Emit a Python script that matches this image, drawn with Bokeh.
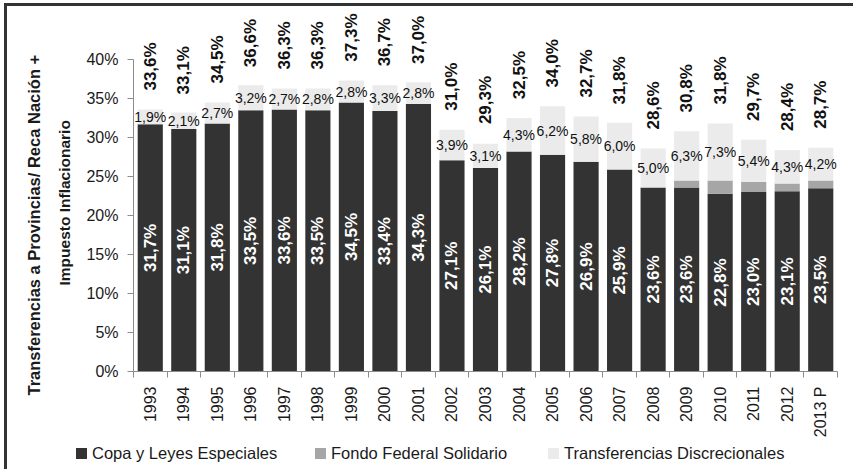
import math
from bokeh.plotting import figure
from bokeh.layouts import column
from bokeh.models import (ColumnDataSource, FixedTicker, PrintfTickFormatter,
                          Range1d, Title, Div)
from bokeh.core.properties import value
from bokeh.embed import file_html
from bokeh.resources import INLINE

years = ["1993", "1994", "1995", "1996", "1997", "1998", "1999", "2000", "2001",
         "2002", "2003", "2004", "2005", "2006", "2007", "2008", "2009", "2010",
         "2011", "2012", "2013 P"]
copa = [31.7, 31.1, 31.8, 33.5, 33.6, 33.5, 34.5, 33.4, 34.3, 27.1, 26.1, 28.2,
        27.8, 26.9, 25.9, 23.6, 23.6, 22.8, 23.0, 23.1, 23.5]
fondo = [0, 0, 0, 0, 0, 0, 0, 0, 0, 0, 0, 0, 0, 0, 0, 0,
         0.9, 1.7, 1.3, 1.0, 1.0]
disc = [1.9, 2.1, 2.7, 3.2, 2.7, 2.8, 2.8, 3.3, 2.8, 3.9, 3.1, 4.3, 6.2, 5.8,
        6.0, 5.0, 6.3, 7.3, 5.4, 4.3, 4.2]
total = [33.6, 33.1, 34.5, 36.6, 36.3, 36.3, 37.3, 36.7, 37.0, 31.0, 29.3, 32.5,
         34.0, 32.7, 31.8, 28.6, 30.8, 31.8, 29.7, 28.4, 28.7]
y_ticks = [0, 5, 10, 15, 20, 25, 30, 35, 40]
series_names = ["Copa y Leyes Especiales", "Fondo Federal Solidario",
                "Transferencias Discrecionales"]
y_title_1 = "Transferencias a Provincias/  Reca Nación +"
y_title_2 = "Impuesto Inflacionario"


def fmt(v):
    return f"{v:.1f}".replace(".", ",") + "%"


n = len(years)
xs = list(range(n))
src = ColumnDataSource(dict(
    x=xs,
    copa=copa,
    copa_mid=[c / 2 for c in copa],
    fondo_top=[c + f for c, f in zip(copa, fondo)],
    disc_top=[c + f + d for c, f, d in zip(copa, fondo, disc)],
    disc_mid=[c + f + d / 2 for c, f, d in zip(copa, fondo, disc)],
    total=total,
    copa_lbl=[fmt(v) for v in copa],
    disc_lbl=[fmt(v) for v in disc],
    total_lbl=[fmt(v) for v in total],
))

FONT = "Liberation Sans"
C_COPA, C_FONDO, C_DISC = "#333333", "#a6a6a6", "#ebebeb"
AXIS_C = "#8c8c8c"
TXT = "#1a1a1a"

p = figure(width=846, height=435, x_range=Range1d(-0.5, n - 0.5),
           y_range=Range1d(0, 46.03), output_backend="svg",
           toolbar_location=None, min_border_left=126, min_border_right=16,
           min_border_top=6, min_border_bottom=70)
p.outline_line_color = None
p.xgrid.visible = False
p.ygrid.visible = False
p.background_fill_color = "white"

W = 0.75
p.vbar(x="x", bottom=0, top="copa", width=W, fill_color=C_COPA,
       line_color=None, source=src)
p.vbar(x="x", bottom="copa", top="fondo_top", width=W,
       fill_color=C_FONDO, line_color=None, source=src)
p.vbar(x="x", bottom="fondo_top", top="disc_top", width=W,
       fill_color=C_DISC, line_color=None, source=src)

p.text(x="x", y="copa_mid", text="copa_lbl", angle=math.pi / 2,
       text_align="center", text_baseline="middle", text_color="white",
       text_font=value(FONT), text_font_style="bold", text_font_size="17px",
       source=src)
p.text(x="x", y="disc_mid", text="disc_lbl", text_align="center",
       text_baseline="middle", text_color="#111111", text_font=value(FONT),
       text_font_size="14px", source=src)
p.text(x="x", y="total", text="total_lbl", angle=math.pi / 2, y_offset=-43,
       text_align="center", text_baseline="middle", text_color="#111111",
       text_font=value(FONT), text_font_style="bold", text_font_size="17px",
       source=src)

# y axis
ya = p.yaxis[0]
ya.ticker = FixedTicker(ticks=y_ticks)
ya.formatter = PrintfTickFormatter(format="%d%%")
ya.bounds = (0, 40)
ya.axis_line_color = AXIS_C
ya.major_tick_line_color = AXIS_C
ya.major_tick_out = 6
ya.major_tick_in = 0
ya.minor_tick_line_color = None
ya.major_label_text_font = FONT
ya.major_label_text_font_size = "16px"
ya.major_label_text_color = TXT
ya.major_label_standoff = 9

# y axis title: two lines as separate titles in the left panel
t2 = Title(text=y_title_2, align="left", offset=86, standoff=17,
           vertical_align="top",
           text_font=FONT, text_font_style="bold", text_font_size="15.5px",
           text_color=TXT)
t1 = Title(text=y_title_1, align="left", offset=-24, standoff=6,
           vertical_align="top",
           text_font=FONT, text_font_style="bold", text_font_size="16.5px",
           text_color=TXT)
p.add_layout(t2, "left")
p.add_layout(t1, "left")

# x axis
xa = p.xaxis[0]
xa.ticker = FixedTicker(ticks=xs, minor_ticks=[i - 0.5 for i in range(n + 1)])
xa.major_label_overrides = {i: y for i, y in zip(xs, years)}
xa.major_label_orientation = math.pi / 2
xa.axis_line_color = AXIS_C
xa.major_tick_line_color = None
xa.major_tick_out = 6
xa.major_tick_in = 0
xa.minor_tick_line_color = AXIS_C
xa.minor_tick_out = 6
xa.minor_tick_in = 0
xa.major_label_text_font = FONT
xa.major_label_text_font_size = "16px"
xa.major_label_text_color = TXT
xa.major_label_standoff = 9

# legend strip below the chart (HTML legend)
legend_x = [69, 308, 541]
items = []
for name, col, lx in zip(series_names, (C_COPA, C_FONDO, C_DISC), legend_x):
    items.append(
        f'<span style="position:absolute;left:{lx}px;top:7px;width:11px;'
        f'height:11px;background:{col};"></span>'
        f'<span style="position:absolute;left:{lx + 16}px;top:3px;'
        f'white-space:nowrap;">{name}</span>')
legend_html = (f'<div style="position:relative;width:840px;height:28px;'
               f'font-family:\'{FONT}\';font-size:16.5px;line-height:19px;'
               f'color:{TXT};">' + "".join(items) + '</div>')
leg = Div(text=legend_html, width=846, height=28, margin=0)

layout = column(p, leg, spacing=0,
                styles={"margin-left": "4px", "margin-top": "3px",
                        "border-left": "3px solid #333333",
                        "border-top": "3px solid #333333"})

open("out.html", "w").write(file_html(layout, INLINE))
